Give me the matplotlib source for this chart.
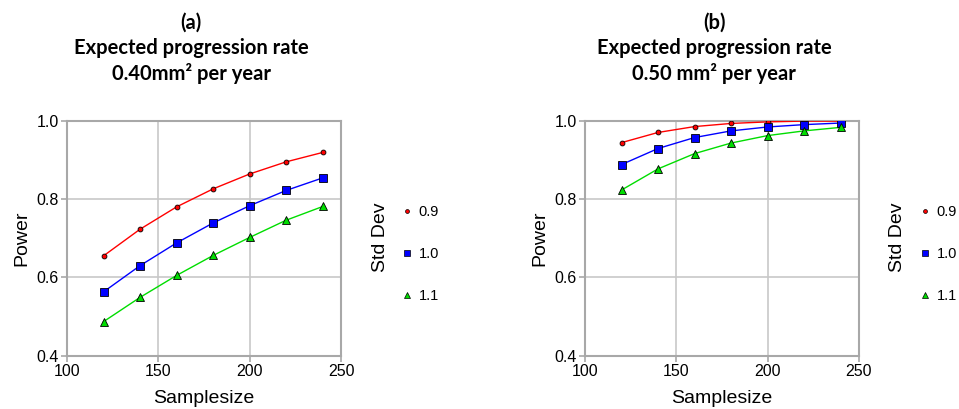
import matplotlib
matplotlib.use("Agg")
import matplotlib.pyplot as plt
from matplotlib.lines import Line2D

sample_size = [120, 140, 160, 180, 200, 220, 240]
std_devs = ["0.9", "1.0", "1.1"]

# Panel (a): expected progression rate 0.40 mm^2 per year
power_a_09 = [0.655, 0.723, 0.780, 0.826, 0.864, 0.895, 0.919]
power_a_10 = [0.563, 0.630, 0.688, 0.739, 0.783, 0.822, 0.854]
power_a_11 = [0.487, 0.549, 0.605, 0.656, 0.702, 0.746, 0.781]

# Panel (b): expected progression rate 0.50 mm^2 per year
power_b_09 = [0.944, 0.970, 0.985, 0.993, 0.997, 0.999, 0.999]
power_b_10 = [0.888, 0.929, 0.957, 0.974, 0.984, 0.990, 0.994]
power_b_11 = [0.823, 0.877, 0.916, 0.943, 0.962, 0.974, 0.983]

titles = ["(a)\nExpected progression rate\n0.40mm\u00b2 per year",
          "(b)\nExpected progression rate\n0.50 mm\u00b2 per year"]

colors = ["#ff0000", "#0000ff", "#00dd00"]
markers = ["o", "s", "^"]
msizes = [3.5, 5.5, 5.5]

tick_font = ["Liberation Sans Narrow", "Liberation Sans"]
label_font = ["Liberation Sans"]
title_font = ["Lato"]

fig = plt.figure(figsize=(9.59, 4.09), dpi=100)

panels = [
    (0.0699, [power_a_09, power_a_10, power_a_11], 191, 407),
    (0.6100, [power_b_09, power_b_10, power_b_11], 714, 925),
]

leg_fs = 10.5
leg_px = leg_fs * 100 / 72

for i, (x0, series, tcx, mkx) in enumerate(panels):
    ax = fig.add_axes([x0, 0.1303, 0.2857, 0.5746])
    for s, c, m, ms in zip(series, colors, markers, msizes):
        ax.plot(sample_size, s, color=c, lw=1.0, zorder=3)
        ax.plot(sample_size, s, ls="none", marker=m, ms=ms, mfc=c,
                mec="black", mew=0.6, zorder=4)
    ax.set_xlim(100, 250)
    ax.set_ylim(0.4, 1.0)
    ax.set_xticks([100, 150, 200, 250])
    ax.set_yticks([0.4, 0.6, 0.8, 1.0])
    ax.set_yticklabels(["0.4", "0.6", "0.8", "1.0"])
    ax.grid(True, color="#c8c8c8", lw=1.2)
    ax.set_axisbelow(True)
    for sp in ax.spines.values():
        sp.set_color("#a8a8a8")
        sp.set_linewidth(1.5)
    ax.tick_params(direction="out", length=4, width=1.2, color="#a8a8a8",
                   labelsize=11.5, pad=2)
    for lab in ax.get_xticklabels() + ax.get_yticklabels():
        lab.set_family(tick_font)
    ax.set_xlabel("Samplesize", fontsize=14, family=tick_font, labelpad=8)
    ax.set_ylabel("Power", fontsize=14, family=label_font, labelpad=4)

    # title
    fig.text(tcx / 959, 1 - 13 / 409, titles[i], ha="center", va="top",
             fontsize=14.5, fontweight="bold", family=title_font,
             linespacing=1.3)

    # legend
    bx = x0 + 0.2857
    fig.text(bx + 39 / 959, 1 - 237 / 409, "Std Dev", rotation=90,
             ha="center", va="center", fontsize=14, family=label_font)
    handles = [Line2D([], [], ls="none", marker=m, ms=ms * 0.8, mfc=c,
                      mec="black", mew=0.5)
               for c, m, ms in zip(colors, markers, msizes)]
    fig.legend(handles, std_devs, loc="center left",
               bbox_to_anchor=((mkx - leg_px * 0.5) / 959, 1 - 254 / 409),
               frameon=False, labelspacing=1.9, borderpad=0,
               borderaxespad=0, handlelength=1.0, handletextpad=0.3,
               prop={"family": tick_font, "size": leg_fs})

fig.savefig("out.png", dpi=100)
